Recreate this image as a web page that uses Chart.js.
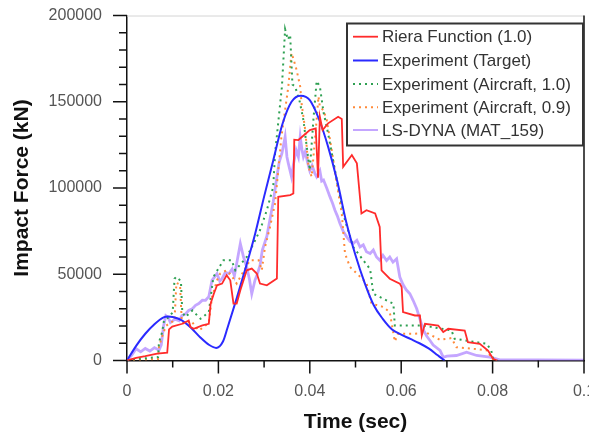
<!DOCTYPE html>
<html><head><meta charset="utf-8">
<script src="https://cdn.jsdelivr.net/npm/chart.js@4/dist/chart.umd.min.js"></script>
<style>html,body{margin:0;padding:0;background:#fff;}canvas{display:block;}</style>
</head><body>
<canvas id="c" width="589" height="435"></canvas>
<script>
// ---- data (time in s, force in kN) ----
const seriesLabels = ['Riera Function (1.0)','Experiment (Target)','Experiment (Aircraft, 1.0)','Experiment (Aircraft, 0.9)','LS-DYNA (MAT_159)'];

const rieraT = [0,0.002,0.004,0.0066,0.0088,0.0092,0.0099,0.0121,0.0135,0.0139,0.0146,0.0165,0.0179,0.0183,0.019,0.0197,0.0208,0.0218,0.0226,0.0233,0.024,0.0248,0.0262,0.0273,0.0284,0.0291,0.0306,0.0328,0.0331,0.0357,0.0364,0.0366,0.0375,0.040,0.0413,0.0418,0.0422,0.0428,0.044,0.0462,0.047,0.0473,0.0492,0.0503,0.0513,0.0524,0.0543,0.0553,0.0557,0.0575,0.0597,0.0601,0.0604,0.063,0.0641,0.0645,0.0652,0.0681,0.0692,0.0703,0.0739,0.0746,0.0772,0.079,0.0801,0.081];
const rieraF = [0,1500,2500,4000,4500,18000,19700,21300,23200,19400,18400,20300,21300,33000,38700,43600,44600,49400,46500,33000,33000,40700,52300,53300,50400,44600,43600,47500,94900,95900,96800,128000,127800,133600,134500,106000,141300,133600,137500,141300,140000,112300,119100,114300,85200,87100,85200,77400,52300,47400,44600,42600,28100,26100,26100,14500,21300,20300,16500,18400,17400,10600,9700,5800,1000,0];

const targetT = [0,0.002,0.004,0.006,0.008,0.009,0.010,0.012,0.014,0.016,0.018,0.0195,0.021,0.022,0.024,0.026,0.028,0.030,0.032,0.034,0.036,0.038,0.040,0.042,0.044,0.046,0.048,0.050,0.052,0.054,0.056,0.058,0.060,0.062,0.064,0.066,0.068,0.0695];
const targetF = [0,8500,15500,21000,25000,25500,25200,23300,19000,13500,9000,7300,11000,19000,36000,54000,73000,95000,116000,137000,150000,153500,151000,140000,124000,104000,80000,61000,45000,32000,24000,18000,15000,12500,10000,7000,3000,0];

const air10T = [0,0.002,0.005,0.0068,0.007,0.0077,0.0081,0.0092,0.0100,0.0104,0.0108,0.0118,0.0121,0.0128,0.0143,0.0161,0.0179,0.0189,0.0211,0.0229,0.0237,0.0262,0.0277,0.0291,0.0306,0.032,0.0324,0.0339,0.0346,0.0352,0.0357,0.0362,0.0368,0.0378,0.0386,0.0397,0.040,0.0408,0.0415,0.0422,0.043,0.044,0.0451,0.0462,0.0477,0.0495,0.0517,0.0532,0.0539,0.0575,0.0583,0.0586,0.0648,0.071,0.0717,0.0787,0.0797,0.0801,0.081];
const air10F = [0,800,1500,2000,10600,16500,23200,25200,28000,47400,48500,46000,28000,25200,29000,24200,28100,48400,58100,58100,52300,60000,67800,75500,87100,100700,120000,158800,192000,186000,188800,160000,158800,150000,139400,116200,110400,140000,162000,158800,144000,131700,116000,100700,81300,65800,58100,53000,38700,33900,32900,20300,20300,17400,12600,9700,5800,1000,0];

const air09T = [0,0.003,0.0068,0.007,0.0077,0.0085,0.0095,0.0104,0.0108,0.0116,0.0120,0.0125,0.014,0.0157,0.0168,0.0179,0.0186,0.0197,0.0204,0.0218,0.0228,0.024,0.0248,0.0269,0.0288,0.0295,0.0302,0.0313,0.0324,0.0331,0.0338,0.0346,0.0353,0.036,0.0364,0.0371,0.0379,0.0382,0.039,0.0397,0.0404,0.0412,0.0419,0.0422,0.043,0.0437,0.0448,0.0459,0.047,0.0477,0.0488,0.0503,0.0524,0.0535,0.0561,0.0575,0.0586,0.0593,0.0626,0.0656,0.0685,0.071,0.0721,0.0757,0.079,0.0797,0.081];
const air09F = [0,500,800,8000,14000,20000,22000,23000,45000,44000,22000,21300,23000,17400,19400,22000,36800,46500,50400,52300,49400,44600,48400,58100,58100,52300,65800,77400,91000,110000,130000,145200,158800,178200,175000,168500,158800,149100,133600,112300,106500,130000,153000,147100,145000,139400,122000,102600,85200,62000,54200,50400,45000,33000,31000,28000,11000,15500,15500,16000,12000,13000,7700,6800,5800,1000,0];

const dynaT = [0,0.001,0.002,0.003,0.004,0.005,0.006,0.007,0.0075,0.008,0.0085,0.009,0.0095,0.0105,0.0114,0.012,0.0128,0.0135,0.0143,0.015,0.0157,0.0165,0.0172,0.0179,0.0186,0.0197,0.0203,0.0208,0.0215,0.0223,0.023,0.0235,0.024,0.0248,0.0255,0.0262,0.0268,0.0273,0.028,0.0285,0.0291,0.0296,0.0306,0.0313,0.032,0.0328,0.0333,0.0339,0.0346,0.035,0.0353,0.036,0.0365,0.037,0.0375,0.0379,0.0383,0.0386,0.039,0.0395,0.040,0.0405,0.0411,0.0415,0.0422,0.0426,0.043,0.0437,0.0444,0.045,0.0455,0.046,0.0466,0.0473,0.0481,0.0488,0.0495,0.0503,0.051,0.0517,0.0524,0.0532,0.0539,0.0546,0.0553,0.056,0.0568,0.0575,0.0582,0.059,0.0597,0.0604,0.0611,0.0619,0.0626,0.0634,0.0641,0.0648,0.0656,0.0663,0.067,0.0685,0.0692,0.070,0.0721,0.0743,0.0765,0.0794,0.0816,0.090,0.100];
const dynaF = [0,3000,6800,5000,7000,5500,7500,6000,9000,20000,26000,25000,22000,24000,23000,26000,27000,29000,30000,32000,33000,35000,34900,37000,46500,50400,46000,47400,51000,50400,53000,49000,56200,67800,60000,54200,47000,38700,46500,50000,55000,63900,72000,82000,92000,106500,115000,120000,129700,118000,114300,106500,115000,122000,118000,129700,122000,118100,121000,115000,110000,113000,108500,106500,110000,104000,104600,100000,95000,91000,87100,84000,79400,75000,71600,69000,67800,69700,65800,67000,63000,62000,64000,60000,58100,61000,58000,60000,57000,59000,48400,44000,41000,38700,34900,30000,24000,18000,14000,11600,9000,5800,1900,2500,2900,4800,2900,1900,400,300,200];

const xTickValues = [0,0.02,0.04,0.06,0.08,0.1];
const xTickLabels = ['0','0.02','0.04','0.06','0.08','0.1'];
const yTickValues = [0,50000,100000,150000,200000];
const yTickLabels = ['0','50000','100000','150000','200000'];

const pts = (t, f) => t.map((v, i) => ({x: v, y: f[i]}));

const FONT = "'Liberation Sans', Arial, sans-serif";

const decor = {
  id: 'decor',
  afterDatasetsDraw(chart) {
    const {ctx, chartArea: a, scales: {x, y}} = chart;
    ctx.save();
    // frame top / right
    ctx.strokeStyle = '#d4d4d4'; ctx.lineWidth = 1;
    ctx.beginPath(); ctx.moveTo(a.left, a.top + 0.5); ctx.lineTo(a.right, a.top + 0.5); ctx.stroke();
    ctx.strokeStyle = '#111'; ctx.lineWidth = 1.5;
    ctx.beginPath(); ctx.moveTo(a.right, a.top); ctx.lineTo(a.right, a.bottom); ctx.stroke();
    // tick marks
    ctx.lineWidth = 1.5; ctx.strokeStyle = '#111';
    for (let k = 0; k <= 10; k++) {
      const v = k / 100; const px = x.getPixelForValue(v);
      const len = k % 2 === 0 ? 13 : 7;
      ctx.beginPath(); ctx.moveTo(px, a.bottom); ctx.lineTo(px, a.bottom + len); ctx.stroke();
    }
    for (let k = 0; k <= 20; k++) {
      const v = k * 10000; const py = y.getPixelForValue(v);
      const len = k % 5 === 0 ? 14 : 8;
      ctx.beginPath(); ctx.moveTo(a.left, py); ctx.lineTo(a.left - len, py); ctx.stroke();
    }
    // legend
    const L = {x: 347, y: 23.5, w: 236, h: 122};
    ctx.fillStyle = '#fff';
    ctx.fillRect(L.x, L.y, L.w, L.h);
    ctx.strokeStyle = '#333'; ctx.lineWidth = 2;
    ctx.strokeRect(L.x, L.y, L.w, L.h);
    ctx.font = '17px ' + FONT;
    ctx.textBaseline = 'middle';
    const rows = [36.7, 60.5, 84, 107.3, 130];
    chart.data.datasets.forEach((ds, i) => {
      const ry = rows[i];
      ctx.save();
      ctx.strokeStyle = ds.borderColor;
      ctx.lineWidth = Math.min(ds.borderWidth, 2);
      ctx.setLineDash(ds.borderDash || []);
      ctx.beginPath(); ctx.moveTo(353, ry); ctx.lineTo(378, ry); ctx.stroke();
      ctx.restore();
      ctx.fillStyle = '#333';
      ctx.fillText(ds.label, 382, ry + 1);
    });
    ctx.restore();
  }
};

new Chart(document.getElementById('c'), {
  type: 'line',
  data: {
    datasets: [
      {label: seriesLabels[0], data: pts(rieraT, rieraF), borderColor: '#ff2b2b', borderWidth: 1.8, order: 1},
      {label: seriesLabels[1], data: pts(targetT, targetF), borderColor: '#2a2aff', borderWidth: 2, cubicInterpolationMode: 'monotone', order: 2},
      {label: seriesLabels[2], data: pts(air10T, air10F), borderColor: '#2ea052', borderWidth: 2, borderDash: [2, 4], order: 3},
      {label: seriesLabels[3], data: pts(air09T, air09F), borderColor: '#ff8a3a', borderWidth: 2, borderDash: [2, 4], order: 4},
      {label: seriesLabels[4], data: pts(dynaT, dynaF), borderColor: 'rgba(176,136,255,0.75)', borderWidth: 2.8, order: 5}
    ]
  },
  options: {
    responsive: false,
    animation: false,
    devicePixelRatio: 1,
    elements: {point: {radius: 0}, line: {tension: 0}},
    layout: {padding: {left: 0, top: 15.5, right: 5, bottom: 0}},
    plugins: {legend: {display: false}, tooltip: {enabled: false}},
    scales: {
      x: {
        type: 'linear', min: 0, max: 0.1,
        afterBuildTicks: s => { s.ticks = xTickValues.map(v => ({value: v})); },
        afterFit: s => { s.height = 74.5; s.paddingLeft = 0; s.paddingRight = 0; },
        grid: {display: false, drawTicks: false},
        border: {display: true, color: '#111', width: 1.5},
        ticks: {autoSkip: false, maxRotation: 0, padding: 21, color: '#555', font: {family: FONT, size: 16},
                callback: (v, i) => xTickLabels[i]},
        title: {display: true, text: 'Time (sec)', color: '#111', font: {family: FONT, size: 21, weight: 'bold'}, padding: {top: 0, bottom: 0}}
      },
      y: {
        type: 'linear', min: 0, max: 200000,
        afterBuildTicks: s => { s.ticks = yTickValues.map(v => ({value: v})); },
        afterFit: s => { s.width = 127; s.paddingTop = 0; s.paddingBottom = 0; },
        grid: {display: false, drawTicks: false},
        border: {display: true, color: '#111', width: 1.5},
        ticks: {autoSkip: false, padding: 25, color: '#555', font: {family: FONT, size: 16},
                callback: (v, i) => yTickLabels[i]},
        title: {display: true, text: 'Impact Force (kN)', color: '#111', font: {family: FONT, size: 21, weight: 'bold'}, padding: {top: 10, bottom: 0}}
      }
    }
  },
  plugins: [decor]
});
</script>
</body></html>
